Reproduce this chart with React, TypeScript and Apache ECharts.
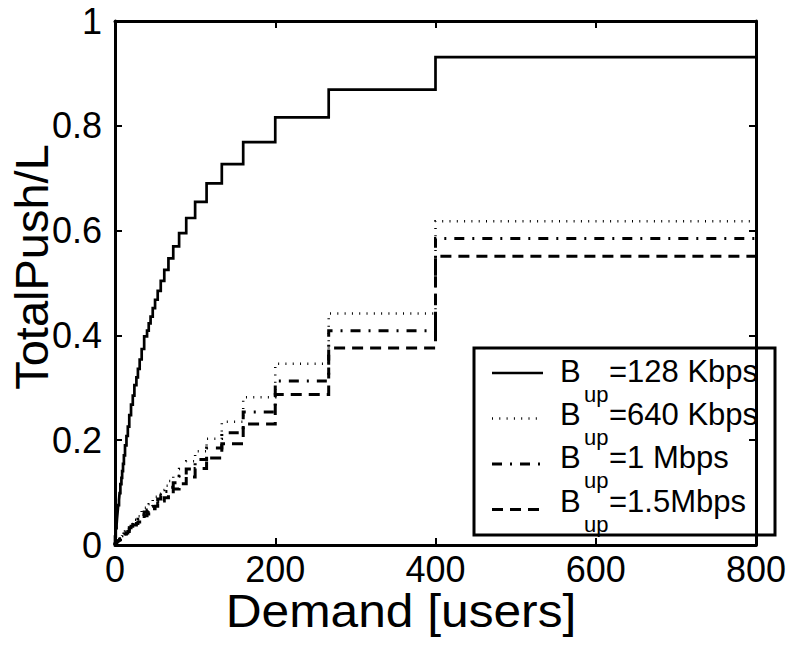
import React, { useEffect, useRef } from "react";
import * as echarts from "echarts";

// Demand breakpoints (users) where the step functions change level
const demand = [0, 1, 2, 2.5, 3.2, 4, 5, 5.7, 6.7, 8, 8.9, 10, 11.1, 12.5, 14.3, 16, 17.8, 20, 22.2, 24.2, 26.7, 28.6, 30.8, 33.3, 36.4, 40, 42.1, 44.4, 47.1, 50, 53.3, 57.1, 61.5, 66.7, 72.7, 80, 88.9, 100, 114.3, 133.3, 160, 200, 266.7, 400, 800];

// TotalPush/L values
const push128K = [0, 0.016, 0.032, 0.039, 0.05, 0.062, 0.076, 0.086, 0.099, 0.116, 0.128, 0.141, 0.155, 0.171, 0.19, 0.208, 0.226, 0.248, 0.268, 0.285, 0.305, 0.32, 0.336, 0.354, 0.374, 0.398, 0.409, 0.423, 0.436, 0.452, 0.468, 0.485, 0.504, 0.525, 0.547, 0.57, 0.595, 0.624, 0.655, 0.69, 0.727, 0.769, 0.816, 0.869, 0.931];
const push640K = [0, 0.0019, 0.0038, 0.005, 0.006, 0.0075, 0.009, 0.011, 0.012, 0.015, 0.017, 0.019, 0.021, 0.023, 0.026, 0.029, 0.033, 0.037, 0.04, 0.044, 0.048, 0.051, 0.055, 0.06, 0.065, 0.071, 0.074, 0.078, 0.082, 0.087, 0.092, 0.098, 0.105, 0.113, 0.122, 0.132, 0.145, 0.16, 0.179, 0.203, 0.235, 0.282, 0.346, 0.442, 0.618];
const push1M = [0, 0.0017, 0.0034, 0.0042, 0.0054, 0.0067, 0.0084, 0.0096, 0.011, 0.013, 0.015, 0.017, 0.018, 0.021, 0.024, 0.026, 0.029, 0.033, 0.036, 0.039, 0.043, 0.046, 0.049, 0.053, 0.058, 0.063, 0.067, 0.07, 0.074, 0.078, 0.083, 0.088, 0.094, 0.102, 0.11, 0.119, 0.131, 0.145, 0.163, 0.185, 0.214, 0.254, 0.313, 0.409, 0.585];
const push1_5M = [0, 0.0015, 0.003, 0.0037, 0.0047, 0.0059, 0.0074, 0.0084, 0.0098, 0.012, 0.013, 0.015, 0.016, 0.018, 0.021, 0.023, 0.026, 0.029, 0.032, 0.035, 0.038, 0.041, 0.044, 0.047, 0.051, 0.056, 0.059, 0.062, 0.066, 0.069, 0.074, 0.079, 0.084, 0.09, 0.098, 0.107, 0.117, 0.13, 0.146, 0.166, 0.193, 0.231, 0.287, 0.376, 0.551];

const seriesNames = ["B_up=128 Kbps", "B_up=640 Kbps", "B_up=1 Mbps", "B_up=1.5Mbps"];
const legendSuffix = ["=128 Kbps", "=640 Kbps", "=1 Mbps", "=1.5Mbps"];
const xLabel = "Demand [users]";
const yLabel = "TotalPush/L";

const FONT = '"Liberation Sans", Arial, Helvetica, sans-serif';

const lineStyles: any[] = [
  { type: "solid", width: 2.7 },
  { type: [1, 6.3], width: 2.5 },
  { type: [10, 8, 2, 8], width: 3 },
  { type: [11, 7], width: 3 },
];

export default function App() {
  const ref = useRef<HTMLDivElement>(null);
  useEffect(() => {
    if (!ref.current) return;
    const chart = echarts.init(ref.current, undefined, { renderer: "svg" });
    const values = [push128K, push640K, push1M, push1_5M];

    const axisLine = { show: true, onZero: false, lineStyle: { color: "#000", width: 3 } };
    const axisTick = { show: true, inside: true, length: 7, lineStyle: { color: "#000", width: 2 } };

    const legendChildren: any[] = [
      {
        type: "rect",
        shape: { x: 474, y: 348, width: 301, height: 187 },
        style: { fill: "#fff", stroke: "#000", lineWidth: 3 },
      },
    ];
    for (let i = 0; i < 4; i++) {
      const ly = 373 + i * 45.5;
      const base = 382 + i * 43.3;
      const dash = lineStyles[i].type === "solid" ? null : lineStyles[i].type;
      legendChildren.push({
        type: "line",
        shape: { x1: 492, y1: ly, x2: 543, y2: ly },
        style: { stroke: "#000", lineWidth: lineStyles[i].width, lineDash: dash, lineCap: "butt" },
      });
      legendChildren.push({
        type: "text",
        x: 560,
        y: base - 0.3465 * 31,
        style: { text: "B", fill: "#000", font: `31px ${FONT}`, align: "left", verticalAlign: "middle", textAlign: "left", textVerticalAlign: "middle" },
      });
      legendChildren.push({
        type: "text",
        x: 584,
        y: base + 20 - 0.3465 * 22,
        style: { text: "up", fill: "#000", font: `22px ${FONT}`, align: "left", verticalAlign: "middle", textAlign: "left", textVerticalAlign: "middle" },
      });
      legendChildren.push({
        type: "text",
        x: 609,
        y: base - 0.3465 * 31,
        style: { text: legendSuffix[i], fill: "#000", font: `31px ${FONT}`, align: "left", verticalAlign: "middle", textAlign: "left", textVerticalAlign: "middle" },
      });
    }

    chart.setOption({
      animation: false,
      backgroundColor: "#fff",
      grid: { left: 115, right: 38, top: 21, bottom: 100, containLabel: false },
      xAxis: [
        {
          type: "value", min: 0, max: 800, interval: 200, position: "bottom",
          axisLine, axisTick,
          axisLabel: { color: "#000", fontSize: 36, fontFamily: FONT, margin: 6 },
          splitLine: { show: false },
        },
        {
          type: "value", min: 0, max: 800, interval: 200, position: "top",
          axisLine, axisTick,
          axisLabel: { show: false },
          splitLine: { show: false },
        },
      ],
      yAxis: [
        {
          type: "value", min: 0, max: 1, interval: 0.2, position: "left",
          axisLine, axisTick,
          axisLabel: { color: "#000", fontSize: 36, fontFamily: FONT, margin: 13 },
          splitLine: { show: false },
        },
        {
          type: "value", min: 0, max: 1, interval: 0.2, position: "right",
          axisLine, axisTick,
          axisLabel: { show: false },
          splitLine: { show: false },
        },
      ],
      series: values.map((vals, i) => ({
        name: seriesNames[i],
        type: "line",
        step: "start",
        xAxisIndex: 0,
        yAxisIndex: 0,
        showSymbol: false,
        symbol: "none",
        data: demand.map((x, j) => [x, vals[j]]),
        lineStyle: { color: "#000", width: lineStyles[i].width, type: lineStyles[i].type, cap: "butt", join: "miter" },
        z: 3,
      })),
      graphic: [
        {
          type: "text",
          x: 401,
          y: 627 - 0.3465 * 46,
          scaleX: 1.08,
          style: { text: xLabel, fill: "#000", font: `46px ${FONT}`, align: "center", verticalAlign: "middle", textAlign: "center", textVerticalAlign: "middle" },
        },
        {
          type: "text",
          x: 48 - 0.3465 * 47,
          y: 267,
          rotation: Math.PI / 2,
          style: { text: yLabel, fill: "#000", font: `47px ${FONT}`, align: "center", verticalAlign: "middle", textAlign: "center", textVerticalAlign: "middle" },
        },
        { type: "group", z: 100, children: legendChildren },
      ],
    });
    return () => chart.dispose();
  }, []);
  return <div ref={ref} style={{ position: "absolute", left: 0, top: 0, width: 794, height: 645 }} />;
}
